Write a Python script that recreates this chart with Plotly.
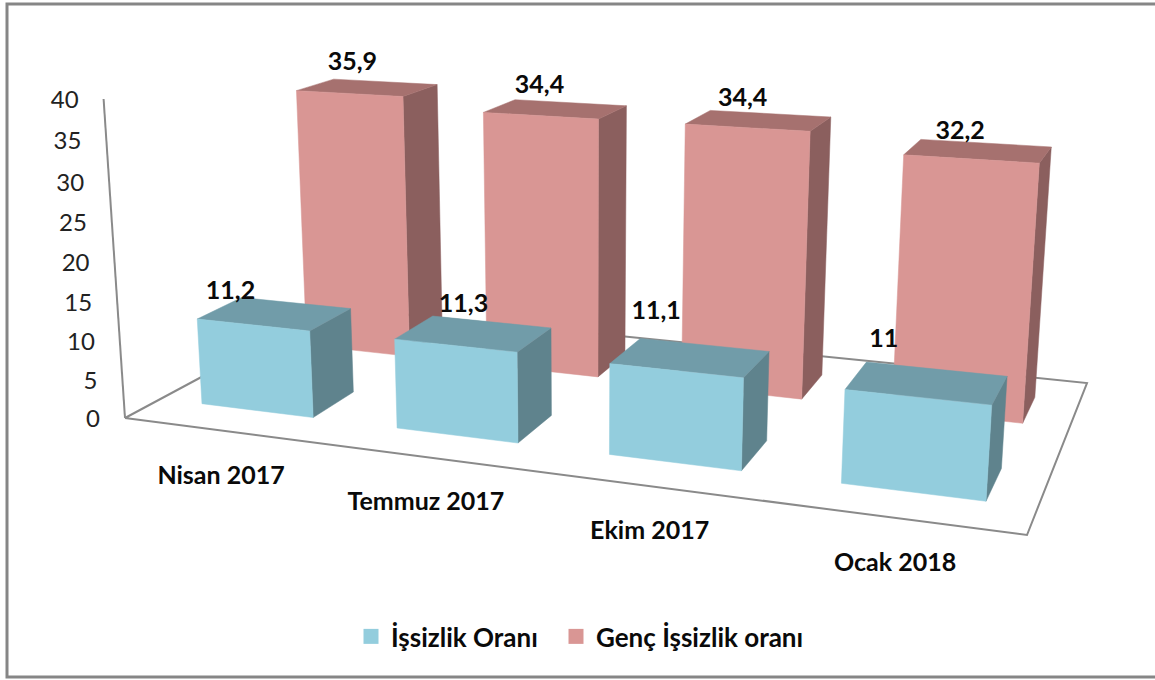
import numpy as np
import plotly.graph_objects as go

# ---- data ----
categories = ["Nisan 2017", "Temmuz 2017", "Ekim 2017", "Ocak 2018"]
issizlik = [11.2, 11.3, 11.1, 11]
genc_issizlik = [35.9, 34.4, 34.4, 32.2]
value_ticks = [0, 5, 10, 15, 20, 25, 30, 35, 40]
issizlik_text = ["11,2", "11,3", "11,1", "11"]
genc_text = ["35,9", "34,4", "34,4", "32,2"]

# ---- view geometry of the 3-D scene (screen px) ----
FLOOR = [(125, 418), (1027, 535), (1087, 383), (332, 307)]  # front-left, front-right, back-right, back-left
V_VANISH = (584.0, 7258.0)
Z_K = -0.001114
CAT_SPAN = 4.0
BAR_X = (0.22, 0.80)        # bar extent inside a category slot
ROW_FRONT = (0.149, 0.347)  # depth extent of first series
ROW_BACK = (0.653, 0.849)   # depth extent of second series


def floor_matrix(q):
    (x0, y0), (x1, y1), (x2, y2), (x3, y3) = q
    dx1, dx2, sx = x1 - x2, x3 - x2, x0 - x1 + x2 - x3
    dy1, dy2, sy = y1 - y2, y3 - y2, y0 - y1 + y2 - y3
    den = dx1 * dy2 - dx2 * dy1
    g = (sx * dy2 - dx2 * sy) / den
    h = (dx1 * sy - sx * dy1) / den
    return np.array([[x1 - x0 + g * x1, x3 - x0 + h * x3, x0],
                     [y1 - y0 + g * y1, y3 - y0 + h * y3, y0],
                     [g, h, 1.0]])


H = floor_matrix(FLOOR)
Z_COL = Z_K * np.array([V_VANISH[0], V_VANISH[1], 1.0])


def project(cat, depth, value):
    p = H @ np.array([cat / CAT_SPAN, depth, 1.0]) + value * Z_COL
    return p[0] / p[2], p[1] / p[2]


def poly(points):
    xs, ys = zip(*[project(*p) for p in points])
    return list(xs) + [xs[0], None], list(ys) + [ys[0], None]


def faces(values, row):
    out = {"front": ([], []), "top": ([], []), "side": ([], [])}
    for i, v in enumerate(values):
        a, b = i + BAR_X[0], i + BAR_X[1]
        f, k = row
        shapes = {
            "front": [(a, f, 0), (b, f, 0), (b, f, v), (a, f, v)],
            "top": [(a, f, v), (b, f, v), (b, k, v), (a, k, v)],
            "side": [(b, f, 0), (b, k, 0), (b, k, v), (b, f, v)],
        }
        for name, pts in shapes.items():
            x, y = poly(pts)
            out[name][0].extend(x)
            out[name][1].extend(y)
    return out


fig = go.Figure()
LINE = "#8a8a8a"

# floor and wall
wall_top = project(0, 0, value_ticks[-1])
origin = project(0, 0, 0)
fx, fy = poly([(0, 0, 0), (CAT_SPAN, 0, 0), (CAT_SPAN, 1, 0), (0, 1, 0)])
fig.add_trace(go.Scatter(x=fx, y=fy, mode="lines", line=dict(color=LINE, width=2),
                         showlegend=False, hoverinfo="skip"))
fig.add_trace(go.Scatter(x=[wall_top[0], origin[0]], y=[wall_top[1], origin[1]], mode="lines",
                         line=dict(color=LINE, width=2), showlegend=False, hoverinfo="skip"))

series = [
    ("Genç İşsizlik oranı", genc_issizlik, ROW_BACK, "#D99694", "#A6716F", "#8B5F5E"),
    ("İşsizlik Oranı", issizlik, ROW_FRONT, "#93CDDD", "#719CA9", "#5F838D"),
]
for name, vals, row, c_front, c_top, c_side in series:
    fc = faces(vals, row)
    for key, col in (("side", c_side), ("top", c_top), ("front", c_front)):
        fig.add_trace(go.Scatter(x=fc[key][0], y=fc[key][1], mode="lines", fill="toself",
                                 fillcolor=col, line=dict(color=col, width=0.5),
                                 showlegend=False, legendgroup=name, hoverinfo="skip"))

# legend entries (two legends, so each entry can sit where the reference has it)
for name, col, lg in (("İşsizlik Oranı", "#93CDDD", "legend"), ("Genç İşsizlik oranı", "#D99694", "legend2")):
    fig.add_trace(go.Scatter(x=[None], y=[None], mode="markers", name=name, legendgroup=name, legend=lg,
                             marker=dict(symbol="square", size=15, color=col)))

BOLD = dict(family="Lato, Carlito, sans-serif", size=25, color="#0a0a0a", weight="bold")
LEGEND_FONT = dict(BOLD, size=26)

# value tick labels follow the slanted wall
tx, ty = zip(*[project(0, 0, t) for t in value_ticks])
fig.add_trace(go.Scatter(x=[v - 25 for v in tx], y=[v + 3 for v in ty], mode="text",
                         text=[str(t) for t in value_ticks], textposition="middle left",
                         textfont=dict(family="Lato, Carlito, sans-serif", size=24, color="#222222"),
                         showlegend=False, hoverinfo="skip"))

# category labels
cx, cy = zip(*[project(i + 0.5, 0, 0) for i in range(len(categories))])
fig.add_trace(go.Scatter(x=cx, y=[v + 47 for v in cy], mode="text", text=categories,
                         textposition="middle center", textfont=BOLD,
                         showlegend=False, hoverinfo="skip"))

# data labels, nudged off the bar tops as in the reference
front_nudge = [(-44, -21), (-10, -28), (-34, -45), (-43, -42)]
back_nudge = [(-15, -24), (-16, -22), (-16, -21), (-18, -18)]
for vals, row, labels, nudge in ((issizlik, ROW_FRONT, issizlik_text, front_nudge),
                                 (genc_issizlik, ROW_BACK, genc_text, back_nudge)):
    pts = [project(i + sum(BAR_X) / 2, sum(row) / 2, v) for i, v in enumerate(vals)]
    fig.add_trace(go.Scatter(x=[p[0] + n[0] for p, n in zip(pts, nudge)],
                             y=[p[1] + n[1] for p, n in zip(pts, nudge)],
                             mode="text", text=labels, textposition="middle center", textfont=BOLD,
                             showlegend=False, hoverinfo="skip"))

legend_common = dict(orientation="h", xanchor="left", y=0.064, yanchor="middle", font=LEGEND_FONT,
                     itemsizing="trace", itemwidth=30, bgcolor="rgba(0,0,0,0)")
fig.update_layout(
    width=1155, height=680, margin=dict(l=0, r=0, t=0, b=0),
    paper_bgcolor="white", plot_bgcolor="white",
    xaxis=dict(range=[0, 1155], visible=False, fixedrange=True),
    yaxis=dict(range=[680, 0], visible=False, fixedrange=True),
    legend=dict(legend_common, x=351 / 1155),
    legend2=dict(legend_common, x=556 / 1155),
    shapes=[dict(type="rect", xref="x", yref="y", x0=7, y0=4, x1=1175, y1=677,
                 line=dict(color="#868686", width=3), fillcolor="rgba(0,0,0,0)", layer="below")],
)
fig.write_html("out.html", config={"displayModeBar": False},
               post_script="document.body.style.margin='0';document.body.style.overflow='hidden';")
